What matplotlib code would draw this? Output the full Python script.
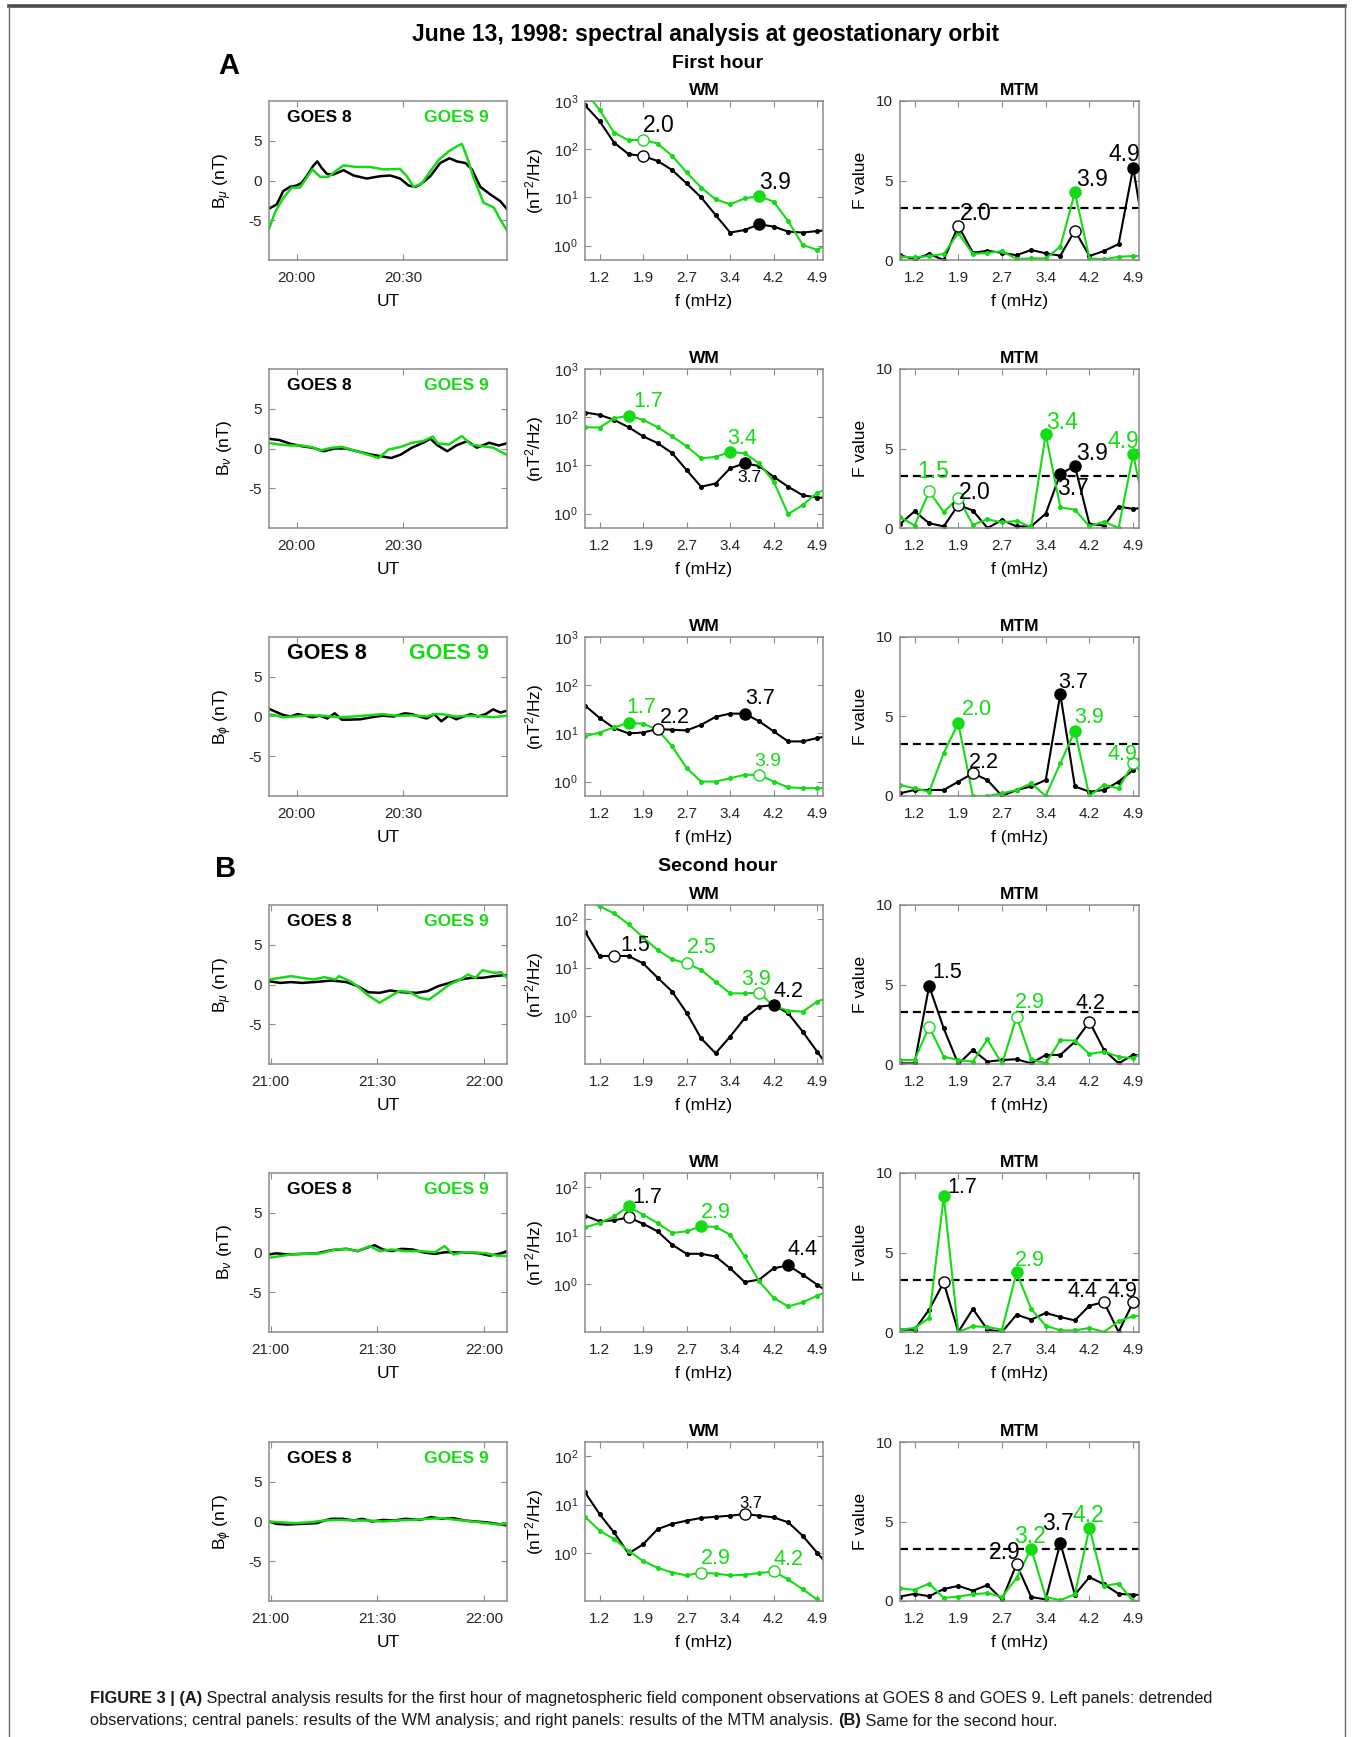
import matplotlib
matplotlib.use('Agg')
import matplotlib.pyplot as plt
from matplotlib.ticker import NullLocator
from matplotlib.lines import Line2D

plt.rcParams['font.family'] = ['Liberation Sans', 'DejaVu Sans']
plt.rcParams['mathtext.fontset'] = 'custom'
plt.rcParams['mathtext.rm'] = 'Liberation Sans'
plt.rcParams['mathtext.it'] = 'Liberation Sans:italic'
plt.rcParams['mathtext.bf'] = 'Liberation Sans:bold'
plt.rcParams['axes.unicode_minus'] = False

W, H = 1356, 1737
GREEN = '#14DC14'

# ---------------- data ----------------
FREQ = [0.90, 1.15, 1.40, 1.65, 1.90, 2.15, 2.40, 2.65, 2.90,
        3.15, 3.40, 3.65, 3.90, 4.15, 4.40, 4.65, 4.90, 5.15]
FREQ_TICKS = [1.15, 1.90, 2.65, 3.40, 4.15, 4.90]
FREQ_TICK_LABELS = ['1.2', '1.9', '2.7', '3.4', '4.2', '4.9']
UT_TICKS_1 = [0, 30]
UT_LABELS_1 = ['20:00', '20:30']
UT_TICKS_2 = [0, 30, 60]
UT_LABELS_2 = ['21:00', '21:30', '22:00']
COMPONENTS = [r'B$_{\mu}$ (nT)', r'B$_{\nu}$ (nT)', r'B$_{\phi}$ (nT)']

# time series (minutes after 20:00 for first hour, after 21:00 for second hour)
TS1_G8_T = [-7.8, -5.6, -3.8, -1.9, 0, 1.4, 2.8, 4.7, 5.8, 7.0, 8.5, 10.3, 13.2, 16.0, 19.7, 23.5,
            26.3, 29.1, 31.5, 33.4, 34.8, 37.6, 40.4, 43.0, 45.1, 47.5, 49.3, 51.7, 54.5, 57.3, 59.2]
TS1_G8_V = [-3.54, -3.0, -1.33, -0.8, -0.63, -0.3, 0.54, 1.88, 2.4, 1.6, 0.83, 0.75, 1.3, 0.63, 0.25, 0.54,
            0.63, 0.25, -0.63, -0.8, -0.5, 0.54, 2.2, 2.8, 2.4, 2.2, 1.4, -0.8, -1.75, -2.6, -3.6]
TS1_G9_T = [-7.8, -6.1, -3.8, -1.4, 0.9, 2.8, 4.4, 6.6, 8.9, 11.3, 13.2, 16.9, 20.7, 24.4, 29.1,
            31.0, 32.9, 35.2, 37.6, 40.0, 42.8, 45.1, 46.5, 47.9, 49.8, 52.6, 55.5, 57.3, 59.2]
TS1_G9_V = [-6.1, -4.0, -2.2, -0.9, -0.9, 0.33, 1.4, 0.46, 0.46, 1.3, 1.9, 1.7, 1.7, 1.4, 1.45,
            0.54, -0.8, -0.38, 1.17, 2.6, 3.67, 4.3, 4.6, 3.0, 0.33, -2.8, -3.4, -4.9, -6.3]

TS2_G8_T = [-8, -4.9, -1.8, 1.3, 4.4, 7.6, 10.7, 13.8, 16.9, 21.0, 24.1, 26.6, 29.3, 32.4, 35.6, 37.6,
            39.7, 42.4, 44.9, 48.0, 50.7, 54.2, 56.9, 59.0]
TS2_G8_V = [1.23, 1.06, 0.6, 0.3, 0.1, -0.34, 0, 0, -0.34, -0.77, -1.0, -1.2, -0.77, 0.1, 0.72, 1.23,
            0.38, -0.34, 0.38, 0.94, 0.1, 0.72, 0.38, 0.64]
TS2_G9_T = [-8, -4.9, -1.8, 1.3, 4.4, 6.5, 9.6, 12.7, 16.9, 20.0, 23.1, 25.8, 29.3, 32.4, 35.6, 38.3,
            39.7, 42.8, 46.5, 49.0, 52.1, 55.3, 59.0]
TS2_G9_V = [0.72, 0.5, 0.38, 0.38, 0.17, -0.26, 0.08, 0.2, -0.34, -0.77, -1.2, -0.13, 0.2, 0.72, 0.94, 1.5,
            0.64, 0.5, 1.57, 0.5, 0.3, 0.1, -0.77]

TS3_G8_T = [-8, -5.9, -3.9, -1.8, 0.3, 2.4, 4.4, 6.5, 8.6, 10.7, 12.7, 14.8, 17.9, 21.0, 24.1, 27.3,
            30.4, 32.4, 34.5, 36.6, 38.7, 40.7, 42.8, 44.9, 47.0, 49.0, 51.1, 53.2, 55.3, 57.3, 59.0]
TS3_G8_V = [1.0, 0.6, 0.2, 0, 0.3, 0.1, -0.1, 0.1, -0.25, 0.4, -0.4, -0.4, -0.35, -0.1, 0.1, 0,
            0.4, 0.3, 0, -0.25, 0.3, -0.6, 0.1, -0.35, 0, 0.3, 0, 0.3, 0.9, 0.5, 0.7]
TS3_G9_T = [-8, -5.9, -3.9, -0.7, 3.4, 7.6, 11.7, 15.9, 20.0, 24.1, 28.3, 32.4, 36.6, 38.7, 40.7,
            44.9, 49.0, 53.2, 55.3, 59.0]
TS3_G9_V = [0.3, 0.15, -0.1, 0, 0.15, 0.1, -0.1, 0, 0.15, 0.3, 0.1, 0.15, 0, 0.3, 0.3,
            0, 0.1, 0, -0.1, 0.1]

TS4_G8_T = [-0.5, 2.6, 5.7, 8.8, 13.0, 17.1, 21.3, 24.4, 27.5, 30.6, 33.7, 36.8, 41.0, 44.1, 47.2,
            50.3, 53.4, 56.5, 59.6, 62.8, 66.5]
TS4_G8_V = [0.42, 0.2, 0.3, 0.2, 0.33, 0.5, 0.3, -0.2, -0.97, -1.05, -0.75, -0.97, -1.05, -0.84, -0.2,
            0.2, 0.63, 0.84, 0.84, 1.05, 1.2]
TS4_G9_T = [-0.5, 2.6, 5.7, 8.8, 11.9, 15.1, 18.2, 19.2, 22.3, 24.4, 27.1, 30.6, 33.7, 36.2, 38.9,
            42.0, 44.5, 47.2, 50.3, 53.4, 55.5, 57.6, 59.6, 62.8, 64.8, 66.5]
TS4_G9_V = [0.63, 0.84, 1.05, 0.84, 0.63, 0.92, 0.63, 1.05, 0.42, -0.2, -1.26, -2.3, -1.47, -0.84, -0.92,
            -1.68, -1.9, -1.05, 0, 0.63, 1.26, 0.84, 1.8, 1.47, 1.55, 0.84]

TS5_G8_T = [-0.5, 1.6, 4.7, 8.8, 13.0, 17.1, 21.3, 24.4, 27.1, 29.2, 31.6, 34.1, 36.8, 39.9, 43.1,
            46.2, 49.3, 52.4, 55.5, 58.6, 61.7, 64.8, 66.5]
TS5_G8_V = [-0.25, -0.1, -0.25, -0.17, -0.1, 0.3, 0.46, 0.17, 0.6, 0.92, 0.38, 0.17, 0.46, 0.38, 0,
            -0.17, 0.04, 0, 0, -0.1, -0.4, -0.1, 0.17]
TS5_G9_T = [-0.5, 2.6, 5.7, 9.9, 14.0, 18.2, 21.3, 24.4, 27.9, 30.6, 34.1, 37.9, 42.0, 46.2, 48.9,
            51.4, 54.5, 57.6, 60.7, 63.8, 66.5]
TS5_G9_V = [-0.67, -0.46, -0.25, -0.17, -0.1, 0.38, 0.46, 0.17, 0.8, 0.17, 0.38, 0.17, 0.17, 0.04, 0.8,
            -0.25, 0.04, 0, -0.1, -0.4, -0.46]

TS6_G8_T = [-0.5, 1.6, 4.7, 8.8, 13.0, 15.1, 17.1, 20.2, 23.4, 25.8, 28.5, 31.6, 34.8, 37.9, 42.0,
            45.1, 48.2, 51.4, 54.5, 57.6, 60.7, 63.8, 66.5]
TS6_G8_V = [0, -0.3, -0.38, -0.3, -0.2, 0.13, 0.34, 0.34, 0.13, 0.34, 0, 0.2, 0.13, 0.34, 0.2,
            0.55, 0.34, 0.42, 0.13, 0, -0.1, -0.3, -0.5]
TS6_G9_T = [-0.5, 2.6, 6.8, 10.9, 15.1, 19.2, 23.4, 27.5, 31.6, 35.8, 39.9, 44.1, 48.2, 52.4, 56.5,
            60.7, 63.8, 66.5]
TS6_G9_V = [0, -0.1, -0.2, -0.1, 0.13, 0.2, 0.13, 0.13, 0, 0.13, 0.2, 0.34, 0.42, 0.2, 0,
            -0.2, -0.38, -0.3]

# WM spectra (nT^2/Hz) at FREQ
WM1_G8 = [813, 385, 137, 79, 72, 57, 37, 19.5, 10, 4.3, 1.86, 2.1, 2.76, 2.47, 1.95, 1.86, 2.0, 2.1]
WM1_G9 = [1550, 662, 221, 153, 158, 131, 73, 33, 16, 9.1, 7.2, 9.5, 10.7, 8.1, 3.2, 1.03, 0.81, 1.2]
WM2_G8 = [125, 112, 88, 62, 40, 29, 18, 8, 3.6, 4.2, 8.7, 11, 9.7, 5.8, 3.6, 2.4, 2.15, 2.1]
WM2_G9 = [62, 61, 95, 107, 88, 62, 40, 25, 14, 15, 19, 17.8, 11, 4.6, 0.97, 1.5, 2.7, 3.5]
WM3_G8 = [37.7, 21, 12.9, 10, 10.4, 12.3, 11.9, 11.5, 15, 22, 25.7, 25.7, 17.8, 11, 6.8, 6.8, 8, 9]
WM3_G9 = [8.7, 10.4, 13.3, 16.4, 15.9, 11.9, 5.4, 1.9, 1.0, 1.0, 1.17, 1.38, 1.38, 1.0, 0.76, 0.73, 0.73, 0.73]
WM4_G8 = [56, 17.5, 17.5, 17.5, 12.3, 6.2, 3.2, 1.16, 0.34, 0.167, 0.37, 0.89, 1.55, 1.68, 1.13, 0.47, 0.18, 0.07]
WM4_G9 = [250, 190, 134, 80, 42.5, 23.3, 14.9, 12.3, 9.0, 5.1, 2.93, 2.93, 3.03, 1.6, 1.28, 1.22, 1.97, 2.6]
WM5_G8 = [26, 19.9, 20.8, 24, 17.7, 12.3, 6.5, 4.2, 4.2, 3.7, 2.1, 1.09, 1.22, 2.1, 2.42, 1.55, 0.96, 0.6]
WM5_G9 = [14.9, 18.3, 25, 40.5, 27.3, 18.3, 11.4, 12.3, 15.6, 15.2, 10.5, 3.7, 1.13, 0.51, 0.34, 0.41, 0.57, 0.75]
WM6_G8 = [18.1, 6.4, 2.65, 0.97, 1.5, 3.1, 4.0, 4.65, 5.3, 5.6, 5.9, 6.4, 5.9, 5.45, 4.3, 2.26, 1.0, 0.45]
WM6_G9 = [5.6, 2.9, 1.93, 1.1, 0.68, 0.49, 0.39, 0.34, 0.39, 0.37, 0.34, 0.35, 0.38, 0.41, 0.28, 0.175, 0.108, 0.06]

# MTM F values at FREQ
MTM1_G8 = [0.3, 0.05, 0.38, 0.0, 2.15, 0.45, 0.58, 0.45, 0.3, 0.63, 0.42, 0.27, 1.85, 0.25, 0.57, 1.0, 5.8, 0.3]
MTM1_G9 = [0.2, 0.17, 0.25, 0.38, 1.7, 0.38, 0.45, 0.55, 0.06, 0.1, 0.1, 0.84, 4.25, 0.1, 0.04, 0.2, 0.25, 0.25]
MTM2_G8 = [0.25, 1.05, 0.3, 0.1, 1.45, 1.1, 0.0, 0.5, 0.1, 0.1, 0.9, 3.4, 3.9, 0.25, 0.15, 1.35, 1.2, 1.3]
MTM2_G9 = [0.7, 0.15, 2.3, 1.0, 1.9, 0.2, 0.55, 0.35, 0.45, 0.05, 5.9, 1.3, 1.15, 0.1, 0.4, 0.0, 4.65, 0.2]
MTM3_G8 = [0.17, 0.38, 0.38, 0.38, 0.9, 1.43, 1.0, 0.0, 0.38, 0.6, 1.0, 6.4, 0.6, 0.27, 0.38, 0.9, 1.64, 3.5]
MTM3_G9 = [0.7, 0.48, 0.27, 2.7, 4.58, 0.0, 0.0, 0.17, 0.38, 0.8, 0.0, 2.06, 4.1, 0.0, 0.7, 0.48, 2.06, 1.0]
MTM4_G8 = [0.04, 0.04, 4.9, 2.24, 0.0, 0.88, 0.15, 0.25, 0.3, 0.04, 0.57, 0.57, 1.4, 2.66, 0.88, 0.04, 0.57, 0.5]
MTM4_G9 = [0.25, 0.25, 2.35, 0.46, 0.25, 0.15, 1.55, 0.0, 2.98, 0.3, 0.04, 1.5, 1.47, 0.63, 0.78, 0.46, 0.36, 0.9]
MTM5_G8 = [0.15, 0.15, 1.4, 3.12, 0.0, 1.45, 0.15, 0.0, 1.09, 0.78, 1.2, 0.94, 0.73, 1.66, 1.87, 0.0, 1.87, 1.2]
MTM5_G9 = [0.15, 0.25, 0.88, 8.53, 0.0, 0.36, 0.31, 0.15, 3.75, 1.45, 0.4, 0.1, 0.1, 0.25, 0.0, 0.67, 1.0, 1.05]
MTM6_G8 = [0.28, 0.45, 0.3, 0.75, 0.95, 0.65, 1.0, 0.1, 2.3, 0.25, 0.1, 3.65, 0.4, 1.5, 1.05, 0.45, 0.4, 0.35]
MTM6_G9 = [0.8, 0.7, 1.1, 0.2, 0.28, 0.42, 0.5, 0.25, 1.45, 3.3, 0.25, 0.05, 0.42, 4.6, 0.95, 1.1, 0.0, 0.05]
F_THRESHOLD = 3.25

# highlighted peaks: (series, index, filled)
WM_MARKS = [
    [('g', 4, False), ('b', 4, False), ('g', 12, True), ('b', 12, True)],
    [('g', 3, True), ('g', 10, True), ('b', 11, True)],
    [('g', 3, True), ('b', 5, False), ('b', 11, True), ('g', 12, False)],
    [('b', 2, False), ('g', 7, False), ('g', 12, False), ('b', 13, True)],
    [('b', 3, False), ('g', 3, True), ('g', 8, True), ('b', 14, True)],
    [('b', 11, False), ('g', 8, False), ('g', 13, False)],
]
MTM_MARKS = [
    [('b', 4, False), ('g', 12, True), ('b', 12, False), ('b', 16, True)],
    [('g', 2, False), ('b', 4, False), ('g', 4, False), ('g', 10, True), ('b', 11, True), ('b', 12, True), ('g', 16, True)],
    [('g', 4, True), ('b', 5, False), ('b', 11, True), ('g', 12, True), ('g', 16, False)],
    [('b', 2, True), ('g', 2, False), ('g', 8, False), ('b', 13, False)],
    [('b', 3, False), ('g', 3, True), ('g', 8, True), ('b', 14, False), ('b', 16, False)],
    [('b', 8, False), ('g', 9, True), ('b', 11, True), ('g', 13, True)],
]
# peak labels: (series, index, text, colour)
WM_LABELS = [
    [('g', 4, '2.0', 'k'), ('g', 12, '3.9', 'k')],
    [('g', 3, '1.7', 'g'), ('g', 10, '3.4', 'g'), ('b', 11, '3.7', 'k')],
    [('g', 3, '1.7', 'g'), ('b', 5, '2.2', 'k'), ('b', 11, '3.7', 'k'), ('g', 12, '3.9', 'g')],
    [('b', 2, '1.5', 'k'), ('g', 7, '2.5', 'g'), ('g', 12, '3.9', 'g'), ('b', 13, '4.2', 'k')],
    [('g', 3, '1.7', 'k'), ('g', 8, '2.9', 'g'), ('b', 14, '4.4', 'k')],
    [('b', 11, '3.7', 'k'), ('g', 8, '2.9', 'g'), ('g', 13, '4.2', 'g')],
]
MTM_LABELS = [
    [('b', 4, '2.0', 'k'), ('g', 12, '3.9', 'k'), ('b', 16, '4.9', 'k')],
    [('g', 2, '1.5', 'g'), ('b', 4, '2.0', 'k'), ('g', 10, '3.4', 'g'), ('b', 11, '3.7', 'k'),
     ('b', 12, '3.9', 'k'), ('g', 16, '4.9', 'g')],
    [('g', 4, '2.0', 'g'), ('b', 5, '2.2', 'k'), ('b', 11, '3.7', 'k'), ('g', 12, '3.9', 'g'), ('g', 16, '4.9', 'g')],
    [('b', 2, '1.5', 'k'), ('g', 8, '2.9', 'g'), ('b', 13, '4.2', 'k')],
    [('g', 3, '1.7', 'k'), ('g', 8, '2.9', 'g'), ('b', 14, '4.4', 'k'), ('b', 16, '4.9', 'k')],
    [('b', 8, '2.9', 'k'), ('g', 9, '3.2', 'g'), ('b', 11, '3.7', 'k'), ('g', 13, '4.2', 'g')],
]
# label placement (pixel offsets of text left edge / vertical centre from the point, font size)
WM_LABEL_POS = [
    [(0, 14, 16.5), (0, 13, 16.5)],
    [(5, 14, 15.5), (-3, 13, 15.5), (-7, -14, 12.5)],
    [(-2, 16, 15.5), (2, 12, 15.5), (1, 15, 15.5), (-5, 13, 14)],
    [(6, 10, 15.5), (0, 16, 15.5), (-18, 13, 15.5), (0, 13, 15.5)],
    [(4, 9, 15.5), (0, 14, 15.5), (-1, 16, 15.5)],
    [(-5, 11, 12), (0, 14, 15.5), (0, 12, 15.5)],
]
MTM_LABEL_POS = [
    [(2, 12, 16.5), (1, 13, 16.5), (-25, 13, 16.5)],
    [(-12, 20, 16.5), (1, 12, 16.5), (0, 12, 16.5), (-3, -15, 16.5), (1, 12, 16.5), (-26, 13, 16.5)],
    [(4, 14, 15.5), (-4, 11, 15.5), (-2, 12, 15.5), (-1, 13, 15.5), (-26, 9, 15.5)],
    [(3, 14, 15.5), (-2, 14, 15.5), (-14, 18, 15.5)],
    [(4, 9, 15.5), (-2, 12, 15.5), (-37, 11, 15.5), (-26, 11, 15.5)],
    [(-28, 12, 16.5), (-17, 12, 16.5), (-18, 19, 16.5), (-17, 12, 16.5)],
]

TS = [
    (TS1_G8_T, TS1_G8_V, TS1_G9_T, TS1_G9_V),
    (TS2_G8_T, TS2_G8_V, TS2_G9_T, TS2_G9_V),
    (TS3_G8_T, TS3_G8_V, TS3_G9_T, TS3_G9_V),
    (TS4_G8_T, TS4_G8_V, TS4_G9_T, TS4_G9_V),
    (TS5_G8_T, TS5_G8_V, TS5_G9_T, TS5_G9_V),
    (TS6_G8_T, TS6_G8_V, TS6_G9_T, TS6_G9_V),
]
WM = [(WM1_G8, WM1_G9), (WM2_G8, WM2_G9), (WM3_G8, WM3_G9),
      (WM4_G8, WM4_G9), (WM5_G8, WM5_G9), (WM6_G8, WM6_G9)]
MTM = [(MTM1_G8, MTM1_G9), (MTM2_G8, MTM2_G9), (MTM3_G8, MTM3_G9),
       (MTM4_G8, MTM4_G9), (MTM5_G8, MTM5_G9), (MTM6_G8, MTM6_G9)]

# ---------------- layout ----------------
fig = plt.figure(figsize=(W / 100, H / 100), dpi=100)
COLS = [(269, 507), (585, 823), (900, 1139)]
ROW_TOPS = [101, 369, 637, 905, 1173, 1442]
PH = 159
SPINE = '#8c8c8c'
XLAB_Y = -0.215


def add_px_axes(x0, y0, x1, y1):
    return fig.add_axes([x0 / W, 1 - y1 / H, (x1 - x0) / W, (y1 - y0) / H])


def style(ax):
    for s in ax.spines.values():
        s.set_color(SPINE)
        s.set_linewidth(1.1)
    ax.tick_params(which='both', direction='in', top=True, right=True, length=4.5,
                   width=0.8, color=SPINE, labelsize=11, labelcolor='#262626')
    ax.tick_params(axis='x', pad=8)
    ax.tick_params(axis='y', pad=5)


def ftext(x, y, s, **kw):
    fig.text(x / W, 1 - y / H, s, **kw)


def col(c):
    return GREEN if c == 'g' else 'k'


def draw_peaks(ax, series, marks, labels, pos):
    for sname, k, filled in marks:
        c = col(sname)
        y = series[sname][k]
        ax.plot([FREQ[k]], [y], 'o', ms=8, mec=c, mew=1.0,
                mfc=c if filled else 'white', zorder=5)
    for (sname, k, txt, tc), (dx, dy, fs) in zip(labels, pos):
        ax.annotate(txt, xy=(FREQ[k], series[sname][k]), xytext=(dx, dy),
                    textcoords='offset pixels', ha='left', va='center',
                    fontsize=fs, color=col(tc), zorder=6, annotation_clip=False)


for r in range(6):
    top = ROW_TOPS[r]
    bot = top + PH
    first = r < 3
    # ---- time series ----
    ax = add_px_axes(COLS[0][0], top, COLS[0][1], bot)
    style(ax)
    t8, v8, t9, v9 = TS[r]
    ax.plot(t8, v8, color='k', lw=1.8)
    ax.plot(t9, v9, color=GREEN, lw=1.8)
    if first:
        ax.set_xlim(-7.8, 59.2)
        ax.set_xticks(UT_TICKS_1)
        ax.set_xticklabels(UT_LABELS_1)
    else:
        ax.set_xlim(-0.5, 66.5)
        ax.set_xticks(UT_TICKS_2)
        ax.set_xticklabels(UT_LABELS_2)
    ax.set_ylim(-10, 10)
    ax.set_yticks([-5, 0, 5])
    ax.set_ylabel(COMPONENTS[r % 3], fontsize=12.5)
    ax.yaxis.set_label_coords(-0.145, 0.5)
    ax.set_xlabel('UT', fontsize=12.5)
    ax.xaxis.set_label_coords(0.5, XLAB_Y)
    gfs = 15.5 if r == 2 else 12.5
    ax.text(0.076, 0.895, 'GOES 8', transform=ax.transAxes, ha='left', va='center',
            fontsize=gfs, fontweight='bold', color='k')
    ax.text(0.924, 0.895, 'GOES 9', transform=ax.transAxes, ha='right', va='center',
            fontsize=gfs, fontweight='bold', color=GREEN)

    # ---- WM ----
    ax = add_px_axes(COLS[1][0], top, COLS[1][1], bot)
    style(ax)
    ax.set_yscale('log')
    b, g = WM[r]
    ax.plot(FREQ, b, '-', color='k', lw=1.5, marker='o', ms=2.6)
    ax.plot(FREQ, g, '-', color=GREEN, lw=1.5, marker='o', ms=2.6)
    ax.set_xlim(0.9, 5.0)
    if first:
        ax.set_ylim(10 ** -0.3, 1000)
        yt = [1, 10, 100, 1000]
    else:
        ax.set_ylim(0.1, 200)
        yt = [1, 10, 100]
    ax.set_yticks(yt)
    ax.set_yticklabels([r'$10^{%d}$' % i for i in range(len(yt))])
    ax.yaxis.set_minor_locator(NullLocator())
    ax.set_xticks(FREQ_TICKS)
    ax.set_xticklabels(FREQ_TICK_LABELS)
    ax.set_ylabel(r'(nT$^2$/Hz)', fontsize=12.5)
    ax.yaxis.set_label_coords(-0.165, 0.5)
    ax.set_xlabel('f (mHz)', fontsize=12.5)
    ax.xaxis.set_label_coords(0.5, XLAB_Y)
    ax.set_title('WM', fontsize=12.5, fontweight='bold', pad=4.5)
    draw_peaks(ax, {'b': b, 'g': g}, WM_MARKS[r], WM_LABELS[r], WM_LABEL_POS[r])

    # ---- MTM ----
    ax = add_px_axes(COLS[2][0], top, COLS[2][1], bot)
    style(ax)
    b, g = MTM[r]
    ax.axhline(F_THRESHOLD, color='k', lw=1.6, ls=(0, (3.6, 2.2)), zorder=1)
    ax.plot(FREQ, b, '-', color='k', lw=1.5, marker='o', ms=2.6)
    ax.plot(FREQ, g, '-', color=GREEN, lw=1.5, marker='o', ms=2.6)
    ax.set_xlim(0.9, 5.0)
    ax.set_ylim(0, 10)
    ax.set_yticks([0, 5, 10])
    ax.set_xticks(FREQ_TICKS)
    ax.set_xticklabels(FREQ_TICK_LABELS)
    ax.set_ylabel('F value', fontsize=12.5)
    ax.yaxis.set_label_coords(-0.135, 0.5)
    ax.set_xlabel('f (mHz)', fontsize=12.5)
    ax.xaxis.set_label_coords(0.5, XLAB_Y)
    ax.set_title('MTM', fontsize=12.5, fontweight='bold', pad=4.5)
    draw_peaks(ax, {'b': b, 'g': g}, MTM_MARKS[r], MTM_LABELS[r], MTM_LABEL_POS[r])

# ---------------- headings ----------------
ftext(706, 34, 'June 13, 1998: spectral analysis at geostationary orbit', ha='center', va='center',
      fontsize=16.5, fontweight='bold')
ftext(218, 66, 'A', ha='left', va='center', fontsize=21, fontweight='bold')
ftext(718, 64, 'First hour', ha='center', va='center', fontsize=14, fontweight='bold')
ftext(215, 869, 'B', ha='left', va='center', fontsize=21, fontweight='bold')
ftext(718, 866, 'Second hour', ha='center', va='center', fontsize=14, fontweight='bold')

# ---------------- frame ----------------
fig.add_artist(Line2D([9 / W, 1345 / W], [1 - 6 / H, 1 - 6 / H], color='#4a4a4a', lw=2.6))
fig.add_artist(Line2D([9 / W, 9 / W], [1 - 6 / H, 0], color='#6a6a6a', lw=1.0))
fig.add_artist(Line2D([1345 / W, 1345 / W], [1 - 6 / H, 0], color='#6a6a6a', lw=1.0))

# ---------------- caption ----------------
CAP1 = [('FIGURE 3 | (A)', 'bold'),
        (' Spectral analysis results for the first hour of magnetospheric field component '
         'observations at GOES 8 and GOES 9. Left panels: detrended', 'normal')]
CAP2 = [('observations; central panels: results of the WM analysis; and right panels: results of '
         'the MTM analysis. ', 'normal'), ('(B)', 'bold'), (' Same for the second hour.', 'normal')]

renderer = fig.canvas.get_renderer()


def measure(pieces, fs):
    w = 0
    for s, wt in pieces:
        t = fig.text(0, 0, s, fontsize=fs, fontweight=wt)
        w += t.get_window_extent(renderer).width
        t.remove()
    return w


cap_fs = 11.0
target = 1209 - 90
cap_fs = cap_fs * target / measure(CAP1, cap_fs)


def put_line(pieces, x, y, fs):
    for s, wt in pieces:
        t = fig.text(x / W, 1 - y / H, s, fontsize=fs, fontweight=wt, ha='left', va='center',
                     color='#1a1a1a')
        x += t.get_window_extent(renderer).width


put_line(CAP1, 90, 1698, cap_fs)
put_line(CAP2, 90, 1721, cap_fs)

fig.savefig('out.png', dpi=100)
